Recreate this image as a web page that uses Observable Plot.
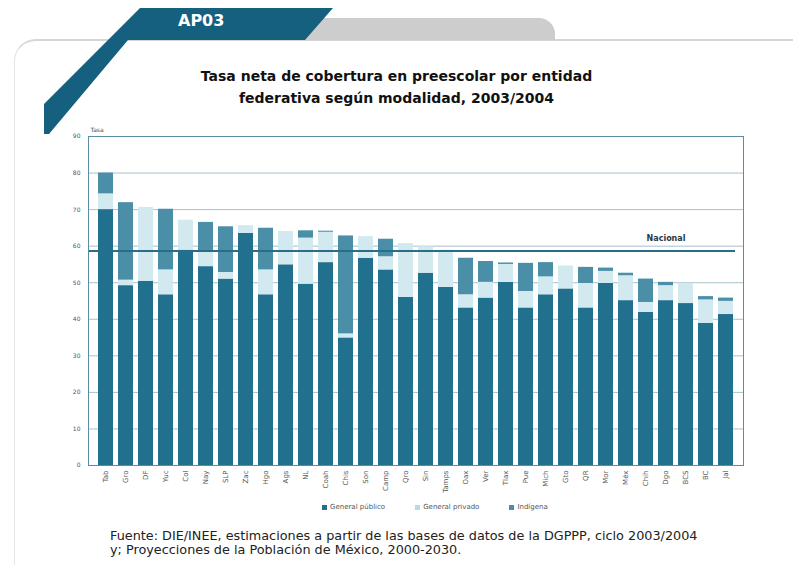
<!DOCTYPE html>
<html><head><meta charset="utf-8">
<script src="https://cdn.jsdelivr.net/npm/d3@7"></script>
<script src="https://cdn.jsdelivr.net/npm/@observablehq/plot@0.6"></script>
<style>
body{margin:0;background:#fff;}
#page{position:relative;width:793px;height:565px;overflow:hidden;background:#fff;font-family:"DejaVu Sans",Verdana,sans-serif;}
#panel{position:absolute;left:14px;top:39px;width:800px;height:560px;border-top:2px solid #d6d6d6;border-left:1px solid #e4e4e4;border-top-left-radius:22px;}
#graytab{position:absolute;left:300px;top:18px;width:255px;height:22px;background:#cdcdcd;border-top-right-radius:16px;}
#band{position:absolute;left:0;top:0;width:340px;height:140px;background:#15607f;
 clip-path:polygon(140px 8px,333px 8px,305px 40px,128px 40px,49px 134px,44px 134px,44px 104px);}
#tabtxt{position:absolute;left:178px;top:11px;color:#fff;font-weight:bold;font-size:16px;font-family:"DejaVu Sans",sans-serif;}
#title{position:absolute;left:0;width:793px;top:65px;text-align:center;font-weight:bold;font-size:14px;line-height:22px;color:#111;}
#chart{position:absolute;left:0;top:115px;}
#legend{position:absolute;left:322px;top:503px;font-size:7px;color:#555;display:flex;gap:30px;}
#legend span{display:inline-flex;align-items:center;gap:3px;}
#legend i{display:inline-block;width:5px;height:5px;}
#source{position:absolute;left:110px;top:529px;font-size:12.8px;line-height:14px;color:#222;}
</style></head><body>
<div id="page">
  <div id="panel"></div>
  <div id="graytab"></div>
  <div id="band"></div>
  <div id="tabtxt">AP03</div>
  <div id="title">Tasa neta de cobertura en preescolar por entidad<br>federativa según modalidad, 2003/2004</div>
  <div id="chart"></div>
  <div id="legend"></div>
  <div id="source">Fuente: DIE/INEE, estimaciones a partir de las bases de datos de la DGPPP, ciclo 2003/2004<br>y; Proyecciones de la Población de México, 2000-2030.</div>
</div>
<script>
const estados = ["Tab","Gro","DF","Yuc","Col","Nay","SLP","Zac","Hgo","Ags","NL","Coah","Chis","Son","Camp","Qro","Sin","Tamps","Oax","Ver","Tlax","Pue","Mich","Gto","QR","Mor","Méx","Chih","Dgo","BCS","BC","Jal"];
const publico  = [70.0,49.2,50.4,46.7,58.9,54.4,51.0,63.5,46.7,54.9,49.6,55.5,34.9,56.7,53.5,46.0,52.6,48.7,43.1,45.8,50.1,43.1,46.7,48.3,43.1,49.8,45.1,41.9,45.1,44.3,38.9,41.3];
const privado  = [4.3,1.5,20.2,6.8,8.2,3.9,1.8,2.1,6.8,9.1,12.6,8.3,1.1,5.9,3.6,14.7,7.2,10.2,3.6,4.3,4.9,4.5,4.9,6.3,6.7,3.3,6.8,2.7,4.1,5.5,6.4,3.6];
const indigena = [5.7,21.2,0,16.6,0,8.2,12.5,0,11.4,0,2.0,0.3,26.8,0,4.8,0,0,0,10.0,5.7,0.4,7.7,3.9,0,4.4,0.9,0.7,6.4,0.9,0,0.9,0.9];
const series = ["General público","General privado","Indígena"];
const colores = ["#21708e","#d3e9f0","#4b8ea8"];
const ticksY = [0,10,20,30,40,50,60,70,80,90];
const nacional = 58.7;
const etiquetaNacional = "Nacional";

const data = estados.flatMap((e,i)=>[
  {estado:e, serie:series[0], valor:publico[i]},
  {estado:e, serie:series[1], valor:privado[i]},
  {estado:e, serie:series[2], valor:indigena[i]}
]);

const chart = Plot.plot({
  width:793, height:385,
  marginLeft:88, marginRight:50, marginTop:21, marginBottom:35,
  style:{fontFamily:"DejaVu Sans, sans-serif", background:"transparent"},
  x:{domain:estados, padding:0.25, paddingOuter:0.05},
  y:{domain:[0,90]},
  color:{domain:series, range:colores},
  marks:[
    Plot.gridY(ticksY,{stroke:"#a9c0cb", strokeOpacity:1, strokeWidth:1}),
    Plot.barY(data,{x:"estado", y:"valor", fill:"serie", order:series}),
    Plot.ruleY([nacional],{stroke:"#2a6d86", strokeWidth:2, insetRight:8}),
    Plot.text([{e:estados[28], v:nacional, t:etiquetaNacional}],{x:"e", y:"v", text:"t", dy:-12, fontWeight:"bold", fontSize:8, fill:"#2b3a42"}),
    Plot.axisY(ticksY,{tickSize:0, tickPadding:8, fontSize:6, fill:"#555", label:null}),
    Plot.axisX({tickSize:0, tickPadding:5, tickRotate:-90, fontSize:7, fill:"#555", label:null}),
    Plot.text(["Tasa"],{frameAnchor:"top-left", dy:-9, dx:2, fontSize:6, fill:"#444", textAnchor:"start"}),
    Plot.frame({stroke:"#5b8da1", strokeWidth:1})
  ]
});
document.getElementById("chart").appendChild(chart);

const lg = document.getElementById("legend");
series.forEach((s,i)=>{
  const sp=document.createElement("span");
  const c=document.createElement("i"); c.style.background = i===1 ? "#b9dbe6" : colores[i];
  sp.appendChild(c); sp.appendChild(document.createTextNode(s)); lg.appendChild(sp);
});
</script>
</body></html>
